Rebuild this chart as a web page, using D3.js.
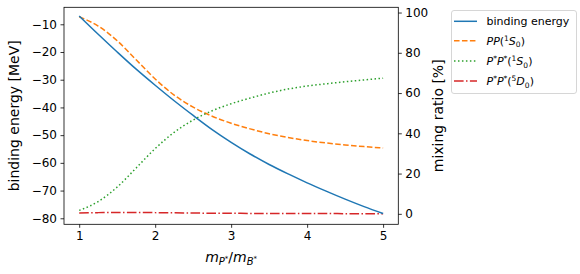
<!DOCTYPE html>
<html><head><meta charset="utf-8">
<script src="https://cdn.jsdelivr.net/npm/d3@7"></script>
<style>
body{margin:0;background:#fff;}
text{font-family:"DejaVu Sans",sans-serif;fill:#000;}
</style></head>
<body><svg id="c" width="580" height="274"></svg>
<script>
const xs = [1,1.25,1.5,1.75,2,2.25,2.5,2.75,3,3.25,3.5,3.75,4,4.25,4.5,4.75,5];
const bindingEnergy = [-7.0,-13.6,-20.0,-26.2,-32.0,-37.6,-42.9,-48.0,-52.6,-56.8,-60.6,-64.0,-67.2,-70.2,-73.1,-75.8,-78.3];
const pp1S0 = [97.9,93.3,86.0,76.5,67.0,59.0,53.0,48.5,45.0,42.2,39.8,37.9,36.4,35.2,34.2,33.4,32.7];
const psps1S0 = [1.7,6.1,13.3,22.8,32.4,40.5,46.6,51.2,54.7,57.5,60.0,62.0,63.5,64.6,65.6,66.5,67.4];
const psps5D0 = [0.4,0.6,0.7,0.7,0.6,0.5,0.4,0.3,0.3,0.2,0.2,0.2,0.2,0.2,0.1,0.1,0.1];
const xTicks = [1,2,3,4,5];
const yLeftTicks = [-10,-20,-30,-40,-50,-60,-70,-80];
const yRightTicks = [0,20,40,60,80,100];

const svg = d3.select("#c");
const L=64, R=398.3, T=7.3, B=224.3;
const x = d3.scaleLinear().domain([0.8,5.2]).range([L,R]);
const yL = d3.scaleLinear().domain([-82.17,-3.87]).range([B,T]);
const yR = d3.scaleLinear().domain([-5.2,102.6]).range([B,T]);

const colors = {blue:"#1f77b4",orange:"#ff7f0e",green:"#2ca02c",red:"#d62728"};

const fmt = d => d<0 ? "\u2212"+Math.abs(d) : ""+d;
const gx = svg.append("g").attr("transform",`translate(0,${B})`)
  .call(d3.axisBottom(x).tickValues(xTicks).tickSize(3.5).tickPadding(3.5).tickFormat(fmt));
const gyl = svg.append("g").attr("transform",`translate(${L},0)`)
  .call(d3.axisLeft(yL).tickValues(yLeftTicks).tickSize(3.5).tickPadding(3.5).tickFormat(fmt));
const gyr = svg.append("g").attr("transform",`translate(${R},0)`)
  .call(d3.axisRight(yR).tickValues(yRightTicks).tickSize(3.5).tickPadding(3.5).tickFormat(fmt));
[gx,gyl,gyr].forEach(g=>{
  g.select(".domain").remove();
  g.selectAll(".tick line").attr("stroke","#000").attr("stroke-width",0.8);
  g.selectAll(".tick text").attr("font-size",12).attr("font-family","DejaVu Sans").attr("fill","#000");
});

const pts = (arr)=>xs.map((d,i)=>[d,arr[i]]);
const lineL = d3.line().x(d=>x(d[0])).y(d=>yL(d[1])).curve(d3.curveMonotoneX);
const lineR = d3.line().x(d=>x(d[0])).y(d=>yR(d[1])).curve(d3.curveMonotoneX);

svg.append("path").attr("d",lineR(pts(pp1S0))).attr("fill","none").attr("stroke",colors.orange).attr("stroke-width",1.5).attr("stroke-dasharray","5.55,2.4");
svg.append("path").attr("d",lineR(pts(psps1S0))).attr("fill","none").attr("stroke",colors.green).attr("stroke-width",1.5).attr("stroke-dasharray","1.5,2.475");
svg.append("path").attr("d",lineR(pts(psps5D0))).attr("fill","none").attr("stroke",colors.red).attr("stroke-width",1.5).attr("stroke-dasharray","9.6,2.4,1.5,2.4");
svg.append("path").attr("d",lineL(pts(bindingEnergy))).attr("fill","none").attr("stroke",colors.blue).attr("stroke-width",1.5);

svg.append("rect").attr("x",L).attr("y",T).attr("width",R-L).attr("height",B-T)
  .attr("fill","none").attr("stroke","#000").attr("stroke-width",0.8);

svg.append("text").attr("transform",`translate(19,${(T+B)/2}) rotate(-90)`)
  .attr("text-anchor","middle").attr("font-size",14).text("binding energy [MeV]");
svg.append("text").attr("transform",`translate(443,${(T+B)/2}) rotate(-90)`)
  .attr("text-anchor","middle").attr("font-size",14).text("mixing ratio [%]");
const xl = svg.append("text").attr("x",(L+R)/2).attr("y",262).attr("text-anchor","middle").attr("font-size",14);
xl.append("tspan").attr("font-style","italic").text("m");
xl.append("tspan").attr("font-style","italic").attr("font-size",10).attr("dy",3).text("P");
xl.append("tspan").attr("font-size",7).attr("dy",-4.5).text("*");
xl.append("tspan").attr("dy",1.5).text("/");
xl.append("tspan").attr("font-style","italic").text("m");
xl.append("tspan").attr("font-style","italic").attr("font-size",10).attr("dy",3).text("B");
xl.append("tspan").attr("font-size",7).attr("dy",-4.5).text("*");

const lg = svg.append("g");
lg.append("rect").attr("x",451.5).attr("y",10.5).attr("width",125).attr("height",83).attr("rx",2.5)
  .attr("fill","#fff").attr("fill-opacity",0.8).attr("stroke","#cccccc").attr("stroke-width",0.8);
const items = [
  {c:colors.blue,dash:null,key:"be"},
  {c:colors.orange,dash:"5.55,2.4",key:"pp"},
  {c:colors.green,dash:"1.5,2.475",key:"g"},
  {c:colors.red,dash:"9.6,2.4,1.5,2.4",key:"r"}
];
const rowY = [21.3,40.8,61,81];
items.forEach((it,i)=>{
  const yy=rowY[i];
  lg.append("line").attr("x1",454).attr("x2",477).attr("y1",yy).attr("y2",yy)
    .attr("stroke",it.c).attr("stroke-width",1.5).attr("stroke-dasharray",it.dash);
  const t = lg.append("text").attr("x",486.5).attr("y",yy+4).attr("font-size",11);
  const sup = (s)=>t.append("tspan").attr("font-size",7.5).attr("dy",-4).text(s);
  const sub = (s)=>t.append("tspan").attr("font-size",7.5).attr("dy",2.5).text(s);
  const it_ = (s)=>t.append("tspan").attr("font-style","italic").text(s);
  const rm = (s)=>t.append("tspan").text(s);
  if(it.key==="be"){ rm("binding energy"); }
  else if(it.key==="pp"){ it_("PP"); rm("("); sup("1"); t.append("tspan").attr("dy",4).attr("font-style","italic").text("S"); sub("0"); t.append("tspan").attr("dy",-2.5).text(")"); }
  else {
    it_("P"); sup("*"); t.append("tspan").attr("dy",4).attr("font-style","italic").text("P"); sup("*");
    t.append("tspan").attr("dy",4).text("(");
    sup(it.key==="g"?"1":"5");
    t.append("tspan").attr("dy",4).attr("font-style","italic").text(it.key==="g"?"S":"D");
    sub("0"); t.append("tspan").attr("dy",-2.5).text(")");
  }
});
</script></body></html>
